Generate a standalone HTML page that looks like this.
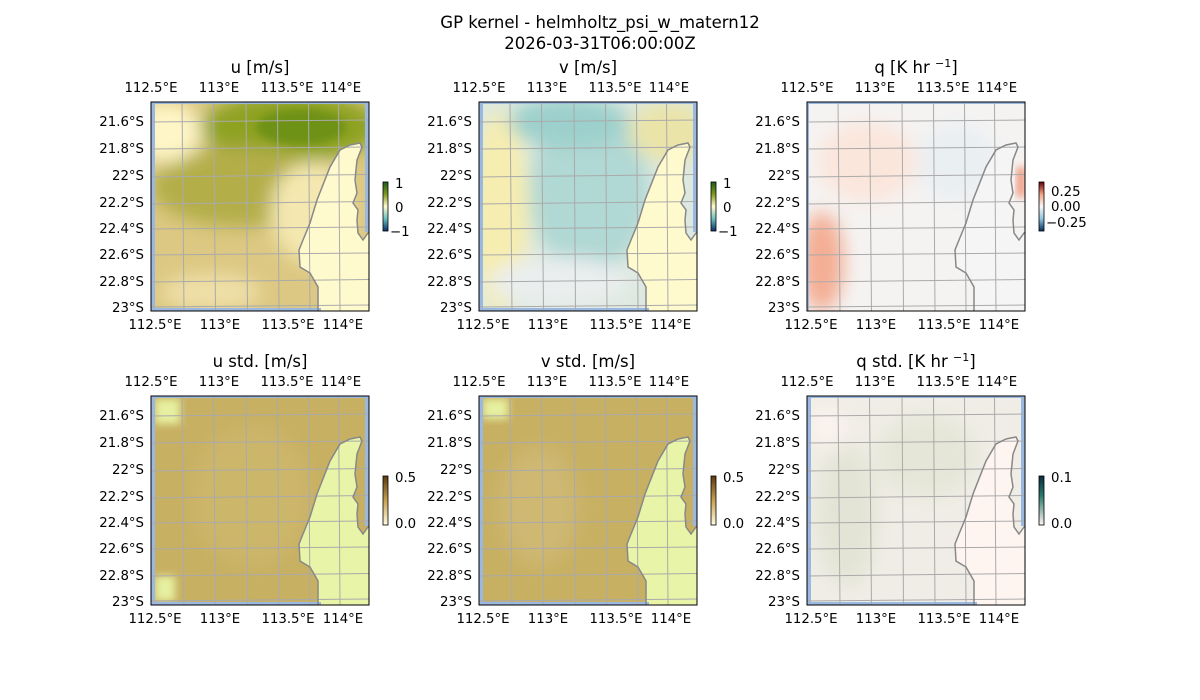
<!DOCTYPE html>
<html><head><meta charset="utf-8"><style>
body{margin:0;background:#fff}
svg{display:block;font-family:"DejaVu Sans","Liberation Sans",sans-serif}
</style></head><body>
<svg width="1200" height="700" viewBox="0 0 1200 700" xmlns="http://www.w3.org/2000/svg">
<defs>
<clipPath id="cp"><rect x="0" y="0" width="218" height="209"/></clipPath>
<filter id="bl" x="-30%" y="-30%" width="160%" height="160%"><feGaussianBlur stdDeviation="9"/></filter>
<filter id="bl2" x="-30%" y="-30%" width="160%" height="160%"><feGaussianBlur stdDeviation="4"/></filter>
<path id="coast" d="M167,209 L167,185 L159,171 L149,165 L148,148 L152,138 L159,121 L166,98 L179,65 L189,48 L199,43 L209,41 L211,45 L206,58 L204,78 L206,91 L202,101 L207,108 L206,118 L207,131 L212,138 L217,131 L218,131"/>
<path id="land" d="M167,209 L167,185 L159,171 L149,165 L148,148 L152,138 L159,121 L166,98 L179,65 L189,48 L199,43 L209,41 L211,45 L206,58 L204,78 L206,91 L202,101 L207,108 L206,118 L207,131 L212,138 L217,131 L218,131 L218,209 Z"/>
<g id="grid" stroke="#aaa" stroke-width="1" fill="none">
<line x1="31" y1="0" x2="33" y2="209"/><line x1="62.5" y1="0" x2="64.5" y2="209"/><line x1="95" y1="0" x2="96.5" y2="209"/><line x1="126.5" y1="0" x2="128" y2="209"/><line x1="157.5" y1="0" x2="159" y2="209"/><line x1="187.5" y1="0" x2="189" y2="209"/>
<line x1="0" y1="20" x2="218" y2="18"/><line x1="0" y1="47" x2="218" y2="45"/><line x1="0" y1="75" x2="218" y2="72.5"/><line x1="0" y1="102" x2="218" y2="99.5"/><line x1="0" y1="127" x2="218" y2="125"/><line x1="0" y1="153" x2="218" y2="151"/><line x1="0" y1="180" x2="218" y2="177.5"/><line x1="0" y1="205" x2="218" y2="203"/>
</g>
<g id="ticks" font-size="13.3" fill="#000">
<g text-anchor="end"><text x="-7" y="24">21.6°S</text><text x="-7" y="51">21.8°S</text><text x="-7" y="78">22°S</text><text x="-7" y="105">22.2°S</text><text x="-7" y="131">22.4°S</text><text x="-7" y="157">22.6°S</text><text x="-7" y="184">22.8°S</text><text x="-7" y="210">23°S</text></g>
<g text-anchor="middle"><text x="0" y="-10">112.5°E</text><text x="68" y="-10">113°E</text><text x="136" y="-10">113.5°E</text><text x="190" y="-10">114°E</text>
<text x="4" y="227">112.5°E</text><text x="69" y="227">113°E</text><text x="137" y="227">113.5°E</text><text x="192" y="227">114°E</text></g>
</g>
<linearGradient id="cbu" x1="0" y1="0" x2="0" y2="1"><stop offset="0" stop-color="#1a5e1a"/><stop offset="0.25" stop-color="#7f9a1a"/><stop offset="0.5" stop-color="#fffacd"/><stop offset="0.75" stop-color="#6cc0c0"/><stop offset="1" stop-color="#08306b"/></linearGradient>
<linearGradient id="cbq" x1="0" y1="0" x2="0" y2="1"><stop offset="0" stop-color="#67000d"/><stop offset="0.25" stop-color="#f4a582"/><stop offset="0.5" stop-color="#f7f7f7"/><stop offset="0.75" stop-color="#92c5de"/><stop offset="1" stop-color="#053061"/></linearGradient>
<linearGradient id="cbs" x1="0" y1="0" x2="0" y2="1"><stop offset="0" stop-color="#5a3a10"/><stop offset="0.5" stop-color="#c8a050"/><stop offset="1" stop-color="#fffbe0"/></linearGradient>
<linearGradient id="cbqs" x1="0" y1="0" x2="0" y2="1"><stop offset="0" stop-color="#0a2a40"/><stop offset="0.4" stop-color="#2a7a6a"/><stop offset="1" stop-color="#fff5f0"/></linearGradient>
</defs>

<text x="600" y="28" font-size="16.5" text-anchor="middle">GP kernel - helmholtz_psi_w_matern12</text>
<text x="600" y="49" font-size="16.5" text-anchor="middle">2026-03-31T06:00:00Z</text>

<!-- Panel 1 u -->
<g transform="translate(151,102)">
<text x="109" y="-29" font-size="16.5" text-anchor="middle">u [m/s]</text>
<use href="#ticks"/>
<g clip-path="url(#cp)">
<rect width="218" height="209" fill="#dcc882"/>
<g filter="url(#bl)">
<ellipse cx="140" cy="25" rx="90" ry="35" fill="#8ea224"/>
<ellipse cx="90" cy="85" rx="90" ry="40" fill="#b4ae48"/>
<ellipse cx="15" cy="30" rx="35" ry="30" fill="#fff6c8"/>
<ellipse cx="60" cy="190" rx="50" ry="18" fill="#efe0a8"/>
<ellipse cx="160" cy="110" rx="40" ry="50" fill="#f4e8b0"/>
</g>
<g filter="url(#bl2)"><ellipse cx="150" cy="25" rx="45" ry="18" fill="#6e9214"/></g>
<use href="#land" fill="#fffacd"/>
<rect x="0" y="0" width="4" height="209" fill="#9ab8e0"/>
<rect x="0" y="0" width="218" height="2" fill="#9ab8e0"/>
<rect x="214" y="0" width="4" height="130" fill="#9ab8e0"/>
<rect x="0" y="206" width="170" height="3" fill="#9ab8e0"/>
<use href="#grid"/>
<use href="#coast" fill="none" stroke="#888" stroke-width="1.5"/>
</g>
<rect width="218" height="209" fill="none" stroke="#000"/>
</g>
<rect x="383" y="182" width="5" height="49" fill="url(#cbu)" stroke="#000" stroke-width="0.8"/>
<g font-size="13.3"><text x="395" y="188">1</text><text x="395" y="212">0</text><text x="390" y="236">−1</text></g>

<!-- Panel 2 v -->
<g transform="translate(479,102)">
<text x="109" y="-29" font-size="16.5" text-anchor="middle">v [m/s]</text>
<use href="#ticks"/>
<g clip-path="url(#cp)">
<rect width="218" height="209" fill="#dde9e0"/>
<g filter="url(#bl)">
<ellipse cx="20" cy="110" rx="30" ry="100" fill="#f6edb0"/>
<ellipse cx="110" cy="90" rx="60" ry="80" fill="#b0d8d4"/>
<ellipse cx="90" cy="20" rx="60" ry="25" fill="#9cd0cc"/>
<ellipse cx="190" cy="30" rx="40" ry="30" fill="#ebe4a8"/>
<ellipse cx="80" cy="180" rx="70" ry="25" fill="#eaeeee"/>
</g>
<use href="#land" fill="#fffacd"/>
<rect x="0" y="0" width="4" height="209" fill="#9ab8e0"/>
<rect x="0" y="0" width="218" height="2" fill="#9ab8e0"/>
<rect x="214" y="0" width="4" height="130" fill="#9ab8e0"/>
<rect x="0" y="206" width="170" height="3" fill="#9ab8e0"/>
<use href="#grid"/>
<use href="#coast" fill="none" stroke="#888" stroke-width="1.5"/>
</g>
<rect width="218" height="209" fill="none" stroke="#000"/>
</g>
<rect x="711" y="182" width="5" height="49" fill="url(#cbu)" stroke="#000" stroke-width="0.8"/>
<g font-size="13.3"><text x="723" y="188">1</text><text x="723" y="212">0</text><text x="718" y="236">−1</text></g>

<!-- Panel 3 q -->
<g transform="translate(807,102)">
<text x="109" y="-29" font-size="16.5" text-anchor="middle">q [K hr <tspan dy="-6" font-size="11">−1</tspan><tspan dy="6">]</tspan></text>
<use href="#ticks"/>
<g clip-path="url(#cp)">
<rect width="218" height="209" fill="#f5f3f2"/>
<g filter="url(#bl)">
<ellipse cx="15" cy="160" rx="22" ry="50" fill="#f4ae94"/>
<ellipse cx="60" cy="60" rx="50" ry="40" fill="#fbe6dc"/>
<ellipse cx="150" cy="60" rx="40" ry="40" fill="#eaeff2"/>
</g>
<use href="#land" fill="#f5f5f5"/>
<rect x="210" y="65" width="8" height="30" fill="#f09070" filter="url(#bl2)"/>
<rect x="0" y="0" width="2" height="209" fill="#9ab8e0"/>
<rect x="0" y="0" width="218" height="2" fill="#9ab8e0"/>
<use href="#grid"/>
<use href="#coast" fill="none" stroke="#888" stroke-width="1.5"/>
</g>
<rect width="218" height="209" fill="none" stroke="#000"/>
</g>
<rect x="1039" y="182" width="5" height="49" fill="url(#cbq)" stroke="#000" stroke-width="0.8"/>
<g font-size="13.3"><text x="1051" y="196">0.25</text><text x="1051" y="211">0.00</text><text x="1046" y="227">−0.25</text></g>

<!-- Panel 4 u std -->
<g transform="translate(151,396)">
<text x="109" y="-29" font-size="16.5" text-anchor="middle">u std. [m/s]</text>
<use href="#ticks"/>
<g clip-path="url(#cp)">
<rect width="218" height="209" fill="#c8b062"/>
<g filter="url(#bl)">
<ellipse cx="100" cy="100" rx="60" ry="70" fill="#ccb66a"/>
</g>
<rect x="4" y="3" width="25" height="25" fill="#e6f0a0" filter="url(#bl2)"/>
<rect x="4" y="180" width="20" height="25" fill="#e6f0a0" filter="url(#bl2)"/>
<use href="#land" fill="#e8f5a8"/>
<rect x="0" y="0" width="4" height="209" fill="#9ab8e0"/>
<rect x="0" y="0" width="218" height="2" fill="#9ab8e0"/>
<rect x="214" y="0" width="4" height="130" fill="#9ab8e0"/>
<rect x="0" y="206" width="170" height="3" fill="#9ab8e0"/>
<use href="#grid"/>
<use href="#coast" fill="none" stroke="#888" stroke-width="1.5"/>
</g>
<rect width="218" height="209" fill="none" stroke="#000"/>
</g>
<rect x="383" y="476" width="5" height="49" fill="url(#cbs)" stroke="#000" stroke-width="0.8"/>
<g font-size="13.3"><text x="395" y="482">0.5</text><text x="395" y="528">0.0</text></g>

<!-- Panel 5 v std -->
<g transform="translate(479,396)">
<text x="109" y="-29" font-size="16.5" text-anchor="middle">v std. [m/s]</text>
<use href="#ticks"/>
<g clip-path="url(#cp)">
<rect width="218" height="209" fill="#c8b062"/>
<g filter="url(#bl)">
<ellipse cx="60" cy="110" rx="40" ry="60" fill="#ceb872"/>
</g>
<rect x="4" y="3" width="25" height="20" fill="#e6f0a0" filter="url(#bl2)"/>
<use href="#land" fill="#e8f5a8"/>
<rect x="0" y="0" width="4" height="209" fill="#9ab8e0"/>
<rect x="0" y="0" width="218" height="2" fill="#9ab8e0"/>
<rect x="214" y="0" width="4" height="130" fill="#9ab8e0"/>
<rect x="0" y="206" width="170" height="3" fill="#9ab8e0"/>
<use href="#grid"/>
<use href="#coast" fill="none" stroke="#888" stroke-width="1.5"/>
</g>
<rect width="218" height="209" fill="none" stroke="#000"/>
</g>
<rect x="711" y="476" width="5" height="49" fill="url(#cbs)" stroke="#000" stroke-width="0.8"/>
<g font-size="13.3"><text x="723" y="482">0.5</text><text x="723" y="528">0.0</text></g>

<!-- Panel 6 q std -->
<g transform="translate(807,396)">
<text x="109" y="-29" font-size="16.5" text-anchor="middle">q std. [K hr <tspan dy="-6" font-size="11">−1</tspan><tspan dy="6">]</tspan></text>
<use href="#ticks"/>
<g clip-path="url(#cp)">
<rect width="218" height="209" fill="#efede5"/>
<g filter="url(#bl)">
<ellipse cx="40" cy="120" rx="30" ry="70" fill="#e4e4d6"/>
<ellipse cx="120" cy="60" rx="50" ry="40" fill="#e6e6d8"/>
<ellipse cx="20" cy="30" rx="20" ry="20" fill="#fbf3ee"/>
</g>
<use href="#land" fill="#fff5f0"/>
<rect x="0" y="0" width="4" height="209" fill="#9ab8e0"/>
<rect x="0" y="0" width="218" height="2" fill="#9ab8e0"/>
<rect x="214" y="0" width="4" height="130" fill="#9ab8e0"/>
<rect x="0" y="206" width="170" height="3" fill="#9ab8e0"/>
<use href="#grid"/>
<use href="#coast" fill="none" stroke="#888" stroke-width="1.5"/>
</g>
<rect width="218" height="209" fill="none" stroke="#000"/>
</g>
<rect x="1039" y="476" width="5" height="49" fill="url(#cbqs)" stroke="#000" stroke-width="0.8"/>
<g font-size="13.3"><text x="1051" y="482">0.1</text><text x="1051" y="528">0.0</text></g>
</svg>
</body></html>
